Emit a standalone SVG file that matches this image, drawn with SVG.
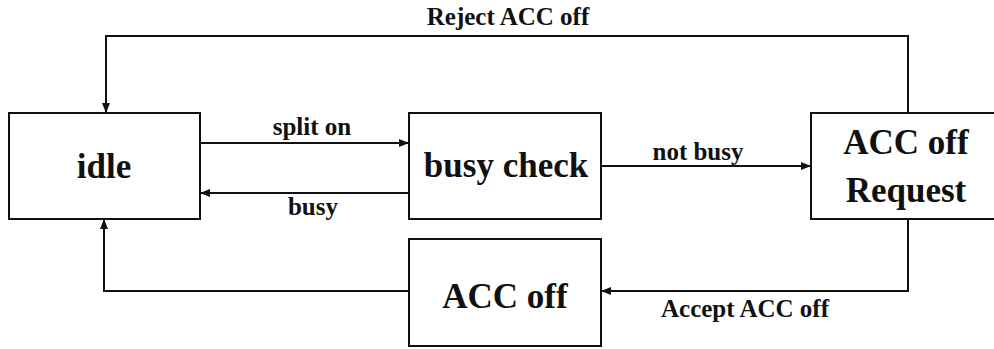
<svg xmlns="http://www.w3.org/2000/svg" width="994" height="349" viewBox="0 0 994 349">
  <defs>
    <marker id="arrow" viewBox="0 0 10 10" refX="10" refY="5" markerWidth="10" markerHeight="10" markerUnits="userSpaceOnUse" orient="auto">
      <path d="M0,1 L10,5 L0,9 Z" fill="#111"/>
    </marker>
    <style>
      .box { fill: #fff; stroke: #111; stroke-width: 2; }
      .node { font-family: "Liberation Serif", "Times New Roman", serif; font-weight: bold; font-size: 35px; fill: #111; text-anchor: middle; }
      .lbl { font-family: "Liberation Serif", "Times New Roman", serif; font-weight: bold; font-size: 25px; fill: #111; text-anchor: middle; }
      .edge { fill: none; stroke: #111; stroke-width: 2; }
    </style>
  </defs>
  <rect width="994" height="349" fill="#fff"/>

  <g id="connectors">
    <path class="edge" d="M908,113 V36 H106 V113" marker-end="url(#arrow)"/>
    <path class="edge" d="M200,143 H409" marker-end="url(#arrow)"/>
    <path class="edge" d="M409,193 H200" marker-end="url(#arrow)"/>
    <path class="edge" d="M601,166 H811" marker-end="url(#arrow)"/>
    <path class="edge" d="M908,219 V291 H601" marker-end="url(#arrow)"/>
    <path class="edge" d="M409,291 H104 V219" marker-end="url(#arrow)"/>
    <text class="lbl" x="508" y="25">Reject ACC off</text>
    <text class="lbl" x="312" y="135">split on</text>
    <text class="lbl" x="313" y="215">busy</text>
    <text class="lbl" x="698" y="160">not busy</text>
    <text class="lbl" x="745" y="317">Accept ACC off</text>
  </g>

  <g id="idle">
    <rect class="box" x="9" y="113" width="191" height="106"/>
    <text class="node" x="104" y="178">idle</text>
  </g>

  <g id="busy-check">
    <rect class="box" x="409" y="113" width="192" height="106"/>
    <text class="node" x="506" y="177">busy check</text>
  </g>

  <g id="acc-off-request">
    <rect class="box" x="811" y="113" width="190" height="106"/>
    <text class="node" x="906" y="154">ACC off</text>
    <text class="node" x="906" y="202">Request</text>
  </g>

  <g id="acc-off">
    <rect class="box" x="409" y="239" width="192" height="107"/>
    <text class="node" x="505" y="308">ACC off</text>
  </g>
</svg>
